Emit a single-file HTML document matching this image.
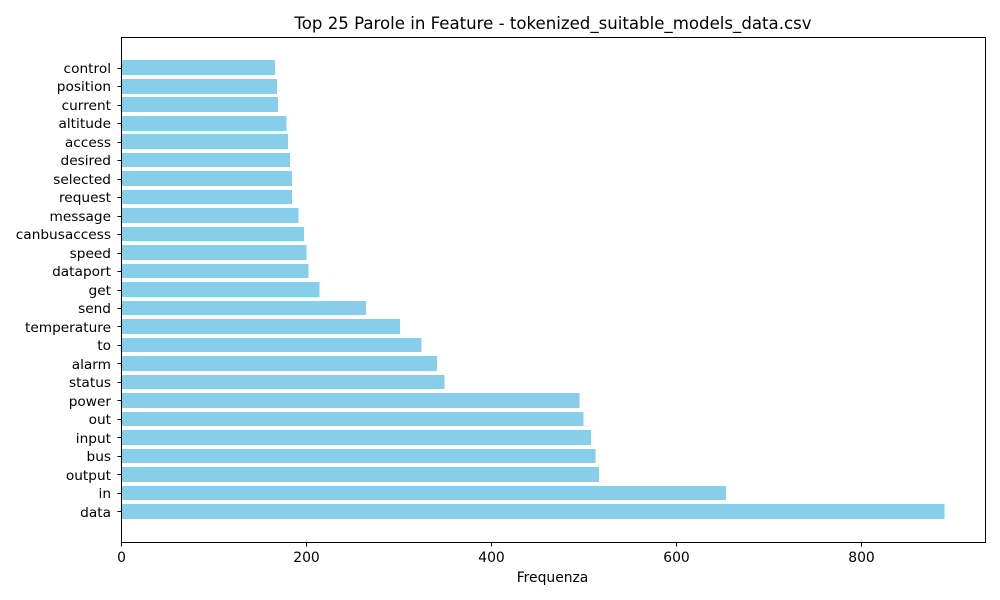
<!DOCTYPE html>
<html lang="en">
<head>
<meta charset="utf-8">
<title>Top 25 Parole in Feature</title>
<style>
html,body{margin:0;padding:0;background:#fff;}
svg{display:block;}
text{font-family:"DejaVu Sans",sans-serif;fill:#000;}
</style>
</head>
<body>
<svg id="chart" xmlns="http://www.w3.org/2000/svg" width="1000" height="600" viewBox="0 0 1000 600">
  <rect x="0" y="0" width="1000" height="600" fill="#fff"/>
  <text x="553" y="29" font-size="16.6" text-anchor="middle">Top 25 Parole in Feature - tokenized_suitable_models_data.csv</text>
  <g id="bars"></g>
  <g id="y-axis"></g>
  <g id="x-axis"></g>
  <rect x="121.5" y="37.5" width="864" height="505" fill="none" stroke="#000" stroke-width="1" shape-rendering="crispEdges"/>
  <text x="552.5" y="582" font-size="13.89" text-anchor="middle">Frequenza</text>
</svg>
<script>
const categories = ["data","in","output","bus","input","out","power","status","alarm","to","temperature","send","get","dataport","speed","canbusaccess","message","request","selected","desired","access","altitude","current","position","control"];
const frequencies = [889,653,516,512,507,499,495,349,341,324,301,264,214,202,200,197,191,184,184,182,180,178,169,168,166];
const xTicks = [0,200,400,600,800];

const NS = "http://www.w3.org/2000/svg";
const plotLeft = 121.5, plotRight = 985.5, plotBottom = 542.5;
const xMax = 889 * 1.05;
const yOrigin = 511.395, yStep = 18.49;
function xScale(v){ return plotLeft + (v / xMax) * (plotRight - plotLeft); }
function yScale(i){ return yOrigin - i * yStep; }
function make(tag, attrs){
  const el = document.createElementNS(NS, tag);
  for (const k in attrs) el.setAttribute(k, attrs[k]);
  return el;
}
const barsG = document.getElementById("bars");
const yG = document.getElementById("y-axis");
const xG = document.getElementById("x-axis");

categories.forEach(function(cat, i){
  const top = Math.round(yScale(i + 0.4));
  const bottom = Math.round(yScale(i - 0.4));
  const bar = make("rect", {x: plotLeft, y: top, width: xScale(frequencies[i]) - plotLeft, height: bottom - top, fill: "#87ceeb", "shape-rendering": "crispEdges"});
  
  
  barsG.appendChild(bar);

  const yPos = Math.round(yScale(i)) + 0.5;
  const tick = make("line", {x1: plotLeft - 4, x2: plotLeft, y1: yPos, y2: yPos, stroke: "#000", "stroke-width": 1, "shape-rendering": "crispEdges"});
  
  
  yG.appendChild(tick);

  const label = make("text", {x: 111, y: Math.round(yScale(i) + 5.3), "font-size": 13.7, "text-anchor": "end"});
  
  
  label.textContent = cat;
  yG.appendChild(label);
});

xTicks.forEach(function(t){
  const xPos = Math.round(xScale(t) - 0.5) + 0.5;
  const tick = make("line", {x1: xPos, x2: xPos, y1: plotBottom, y2: plotBottom + 4, stroke: "#000", "stroke-width": 1, "shape-rendering": "crispEdges"});
  
  
  xG.appendChild(tick);

  const label = make("text", {x: xPos, y: 562, "font-size": 13.89, "text-anchor": "middle"});
  
  
  label.textContent = t;
  xG.appendChild(label);
});
</script>
</body>
</html>
